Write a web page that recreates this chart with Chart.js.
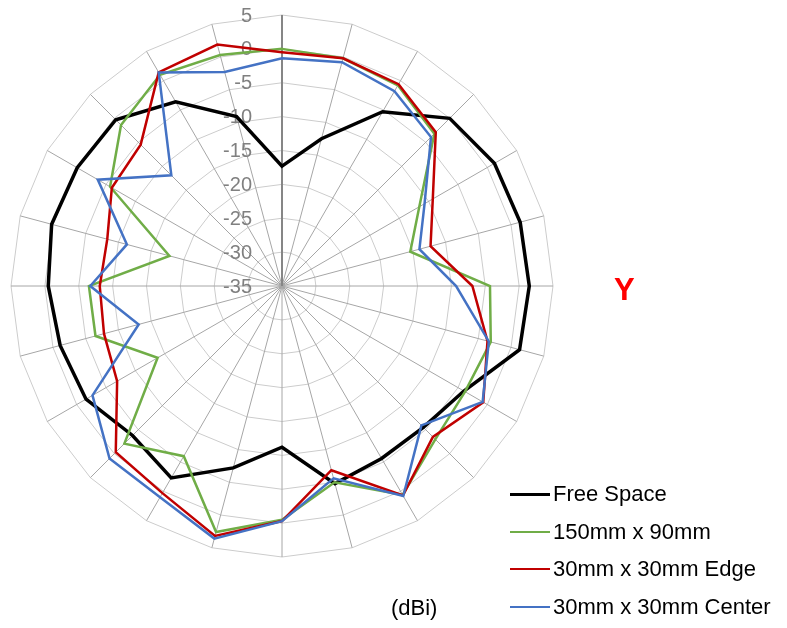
<!DOCTYPE html>
<html>
<head>
<meta charset="utf-8">
<script src="https://cdn.jsdelivr.net/npm/chart.js@4.4.0/dist/chart.umd.min.js"></script>
<style>
  html, body { margin: 0; padding: 0; background: #fff; }
  body { width: 787px; height: 628px; position: relative; overflow: hidden;
         font-family: 'Liberation Sans', Arial, sans-serif; }
  #chart { position: absolute; left: 0; top: 0; }
  .row { position: absolute; left: 510px; height: 26px; line-height: 26px; font-size: 22px; color: #000; white-space: nowrap; }
  .row .swatch { position: absolute; left: 0; width: 40px; top: 13px; }
  .row .txt { position: absolute; left: 43px; top: 0; }
  #unit { position: absolute; left: 391px; top: 595px; font-size: 22px; line-height: 26px; }
  #axisY { position: absolute; left: 614px; top: 272px; font-size: 31px; line-height: 36px; font-weight: bold; color: #ff0000; }
</style>
</head>
<body>
<canvas id="chart" width="787" height="628"></canvas>
<div id="legend"></div>
<div id="unit">(dBi)</div>
<div id="axisY">Y</div>
<script>
// angles, 15 degree steps, clockwise from the top
const angles = ['0', '15', '30', '45', '60', '75', '90', '105', '120', '135', '150', '165',
                '180', '195', '210', '225', '240', '255', '270', '285', '300', '315', '330', '345'];

const seriesNames = ['Free Space', '150mm x 90mm', '30mm x 30mm Edge', '30mm x 30mm Center'];
const seriesColors = ['#000000', '#70ad47', '#c00000', '#4472c4'];

const freeSpace = [-17.3, -12.5, -5.3, 0.0, 1.2, 1.4, 1.5, 1.3, -4.0, -5.5, -5.6, -4.8,
                   -11.2, -7.2, -2.3, -3.8, -1.6, -1.1, -0.5, 0.2, -0.1, -0.3, -3.6, -9.1];
const board150x90 = [0.0, -0.2, -0.8, -3.2, -11.6, -15.4, -4.3, -3.1, -3.8, -3.0, 0.6, -5.0,
                     -0.5, 2.6, -6.0, -2.1, -13.8, -6.5, -6.5, -17.8, -5.7, -1.4, 1.0, 0.3];
const edge30x30 = [-0.5, -0.2, -0.6, -2.9, -9.3, -12.3, -6.9, -3.6, -0.7, -3.5, 0.7, -6.85,
                   -0.3, 3.2, 0.3, -0.3, -6.9, -7.8, -8.1, -8.3, -6.0, -5.5, 1.4, 1.9];
const center30x30 = [-1.4, -0.8, -1.8, -3.9, -10.7, -14.0, -9.3, -3.4, -0.8, -5.9, 0.8, -5.6,
                     -0.3, 3.6, 1.0, 1.0, -2.7, -13.1, -6.7, -11.3, -3.6, -11.9, 1.4, -2.3];

const tickMin = -35;
const tickMax = 5;
const tickStep = 5;

const allSeries = [freeSpace, board150x90, edge30x30, center30x30];
const lineWidths = [3.5, 2.5, 2.5, 2.5];

// tick labels sit left of the top spoke, like the original
const tickLabels = {
    id: 'tickLabels',
    beforeDatasetsDraw(chart) {
        const scale = chart.scales.r;
        const ctx = chart.ctx;
        ctx.save();
        ctx.font = '20px "Liberation Sans", Arial, sans-serif';
        ctx.fillStyle = '#808080';
        ctx.textAlign = 'right';
        ctx.textBaseline = 'middle';
        scale.ticks.forEach(t => {
            const d = scale.getDistanceFromCenterForValue(t.value);
            ctx.fillText(String(t.value), scale.xCenter - 30, scale.yCenter - d + 1);
        });
        ctx.restore();
    }
};

new Chart(document.getElementById('chart'), {
    type: 'radar',
    data: {
        labels: angles,
        datasets: allSeries.map((data, i) => ({
            label: seriesNames[i],
            data: data,
            borderColor: seriesColors[i],
            backgroundColor: seriesColors[i],
            borderWidth: lineWidths[i],
            pointRadius: 0,
            pointHoverRadius: 0,
            fill: false,
            tension: 0,
            order: allSeries.length - i
        }))
    },
    options: {
        responsive: false,
        animation: false,
        layout: { padding: { left: 11, top: 15, right: 234, bottom: 71 } },
        plugins: { legend: { display: false }, tooltip: { enabled: false } },
        scales: {
            r: {
                min: tickMin,
                max: tickMax,
                ticks: { stepSize: tickStep, display: false },
                pointLabels: { display: false },
                grid: { circular: false, color: '#cccccc', lineWidth: 1 },
                angleLines: {
                    color: ctx => ctx.index === 0 ? '#868686' : '#a6a6a6',
                    lineWidth: ctx => ctx.index === 0 ? 2 : 1
                }
            }
        }
    },
    plugins: [tickLabels]
});

// legend rows
const legend = document.getElementById('legend');
const rowCenters = [494, 532, 569, 607];
seriesNames.forEach((name, i) => {
    const row = document.createElement('div');
    row.className = 'row';
    row.style.top = (rowCenters[i] - 13) + 'px';
    const sw = document.createElement('div');
    sw.className = 'swatch';
    sw.style.borderTop = (i === 0 ? 3 : 2) + 'px solid ' + seriesColors[i];
    sw.style.marginTop = (i === 0 ? -1.5 : -1) + 'px';
    const tx = document.createElement('span');
    tx.className = 'txt';
    tx.textContent = name;
    row.appendChild(sw);
    row.appendChild(tx);
    legend.appendChild(row);
});
</script>
</body>
</html>
